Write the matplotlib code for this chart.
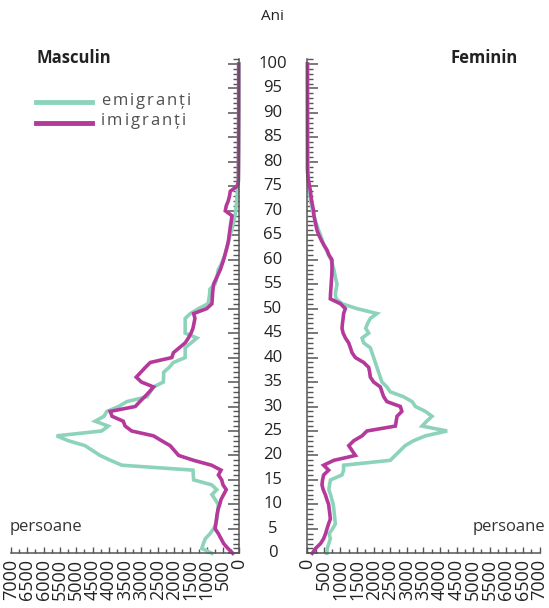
import matplotlib
matplotlib.use("Agg")
import matplotlib.pyplot as plt
from matplotlib.lines import Line2D
from matplotlib.transforms import blended_transform_factory
import numpy as np

plt.rcParams['font.family'] = ['Open Sans', 'DejaVu Sans']

ages = list(range(0, 101))

male_emigrants = [
    840, 1150, 1100, 1040, 900, 790, 720, 690, 670, 655,
    645, 740, 840, 690, 850, 1400, 1410, 1420, 3600, 3950,
    4270, 4500, 4730, 5240, 5600, 4220, 4020, 4420, 4150, 4060,
    3700, 3450, 2830, 2730, 2630, 2330, 2320, 2320, 2150, 2020,
    1660, 1660, 1660, 1480, 1300, 1660, 1660, 1660, 1660, 1500,
    1250, 960, 930, 910, 900, 746, 700, 670, 645, 560,
    500, 439, 400, 360, 320, 286, 240, 200, 165, 132,
    110, 95, 80, 68, 61, 45, 30, 28, 25, 22,
    20, 18, 16, 15, 14, 13, 12, 11, 10, 10,
    9, 8, 8, 7, 7, 6, 6, 5, 5, 5, 5]

male_immigrants = [
    200, 350, 480, 560, 640, 740, 720, 700, 680, 650,
    600, 560, 480, 400, 500, 540, 640, 560, 850, 1400,
    1860, 1990, 2120, 2380, 2630, 3300, 3500, 3560, 3900, 3960,
    3190, 3050, 2900, 2760, 2630, 3000, 3160, 3020, 2880, 2730,
    2070, 2020, 1840, 1660, 1560, 1480, 1420, 1390, 1360, 1400,
    1000, 840, 830, 820, 805, 790, 720, 650, 580, 530,
    480, 440, 400, 360, 330, 310, 290, 270, 245, 225,
    430, 400, 340, 300, 276, 70, 30, 28, 27, 26,
    25, 25, 24, 24, 23, 23, 22, 22, 21, 21,
    20, 20, 20, 20, 20, 20, 20, 20, 20, 20, 20]

female_emigrants = [
    590, 600, 650, 694, 660, 760, 845, 830, 815, 800,
    780, 740, 700, 650, 670, 700, 1045, 1095, 1095, 2500,
    2650, 2800, 2950, 3200, 3560, 4215, 3460, 3600, 3760, 3560,
    3260, 3160, 2900, 2500, 2400, 2250, 2200, 2150, 2100, 2050,
    2000, 1950, 1900, 1700, 1650, 1850, 1760, 1820, 1900, 2100,
    1500, 1050, 870, 845, 870, 896, 860, 830, 800, 760,
    710, 640, 570, 500, 450, 400, 340, 293, 240, 200,
    160, 130, 100, 85, 60, 40, 30, 25, 20, 18,
    16, 15, 14, 13, 12, 11, 10, 10, 9, 9,
    8, 8, 7, 7, 6, 6, 5, 5, 5, 5, 5]

female_immigrants = [
    150, 250, 400, 492, 550, 594, 640, 694, 680, 660,
    643, 590, 543, 480, 442, 460, 492, 643, 492, 800,
    1450, 1350, 1250, 1400, 1650, 1800, 2655, 2680, 2705, 2850,
    2806, 2400, 2303, 2250, 2202, 2000, 1900, 1880, 1850, 1700,
    1450, 1348, 1300, 1247, 1150, 1080, 1046, 1060, 1080, 1095,
    1146, 1000, 694, 700, 710, 720, 730, 740, 744, 744,
    744, 650, 594, 500, 420, 350, 293, 260, 230, 200,
    190, 160, 130, 110, 95, 70, 40, 20, 8, 5,
    5, 5, 5, 5, 5, 5, 5, 5, 5, 5,
    5, 5, 5, 5, 5, 5, 5, 5, 5, 5, 5]

x_ticks = list(range(0, 7001, 500))
age_ticks = list(range(0, 101, 5))
legend_labels = ['emigranți', 'imigranți']

C_EM = '#8dd3bb'
C_IM = '#b5399a'
TXT = '#222222'
AX = '#555555'

W, H = 549, 608
fig = plt.figure(figsize=(W / 100, H / 100), dpi=100)

def fx(px):
    return px / W

def fy(py):
    return 1 - py / H

y0, y1 = 553.3, 59.1
axL = fig.add_axes([fx(11), fy(y0), fx(239.3) - fx(11), fy(y1) - fy(y0)])
axR = fig.add_axes([fx(307.3), fy(y0), fx(539.5) - fx(307.3), fy(y1) - fy(y0)])

lw = 2.6
axL.plot(male_emigrants, ages, color=C_EM, lw=lw, solid_joinstyle='miter', clip_on=False)
axL.plot(male_immigrants, ages, color=C_IM, lw=lw, solid_joinstyle='miter', clip_on=False)
axR.plot(female_emigrants, ages, color=C_EM, lw=lw, solid_joinstyle='miter', clip_on=False)
axR.plot(female_immigrants, ages, color=C_IM, lw=lw, solid_joinstyle='miter', clip_on=False)

for ax in (axL, axR):
    ax.set_ylim(0, 101)
    ax.set_xlim(0, 7000)
    ax.set_facecolor('none')
    ax.spines['top'].set_visible(False)
    for s in ax.spines.values():
        s.set_color(AX)
        s.set_linewidth(1.1)
    ax.set_xticks(x_ticks)
    ax.set_xticks(list(range(250, 7000, 500)), minor=True)
    ax.set_xticklabels([str(v) for v in x_ticks], rotation=90, fontsize=13,
                       color=TXT, va='top')
    ax.tick_params(axis='x', which='major', direction='in', length=4.5, width=1.0,
                   color=AX, pad=4)
    ax.tick_params(axis='x', which='minor', direction='in', length=3, width=1.0,
                   color=AX)
    ax.set_yticks(age_ticks)
    ax.set_yticks(list(range(0, 102)), minor=True)
    ax.set_yticklabels([])
    ax.tick_params(axis='y', which='major', direction='in', length=8, width=1.1,
                   color=AX)
    ax.tick_params(axis='y', which='minor', direction='in', length=4.3, width=1.0,
                   color=AX)

axL.invert_xaxis()
axL.spines['left'].set_visible(False)
axL.yaxis.tick_right()
axL.tick_params(axis='y', which='both', left=False, right=True, labelright=False)
axR.spines['right'].set_visible(False)
axR.yaxis.tick_left()
axR.tick_params(axis='y', which='both', left=True, right=False, labelleft=False)

# central age labels
tr = blended_transform_factory(fig.transFigure, axL.transData)
for a in age_ticks:
    fig.text(fx(273), a, str(a), transform=tr, ha='center', va='center',
             fontsize=12, color=TXT)

fig.text(fx(272), fy(16), 'Ani', ha='center', va='center', fontsize=11, color=TXT)
fig.text(fx(36), fy(58), 'Masculin', ha='left', va='center', fontsize=12,
         fontweight='bold', color=TXT)
fig.text(fx(518), fy(58), 'Feminin', ha='right', va='center', fontsize=12,
         fontweight='bold', color=TXT)
fig.text(fx(10), fy(527), 'persoane', ha='left', va='center', fontsize=12, color='#333333')
fig.text(fx(545), fy(527), 'persoane', ha='right', va='center', fontsize=12, color='#333333')

# legend
fig.add_artist(Line2D([fx(36), fx(92)], [fy(102), fy(102)], color=C_EM, lw=3.5,
                      transform=fig.transFigure))
fig.add_artist(Line2D([fx(36), fx(92)], [fy(122.5), fy(122.5)], color=C_IM, lw=3.5,
                      transform=fig.transFigure))

renderer = fig.canvas.get_renderer()
tracking = 2.0
for label, ypx in zip(legend_labels, [101, 121]):
    xpx = 101
    for ch in label:
        t = fig.text(fx(xpx), fy(ypx), ch, ha='left', va='center', fontsize=12,
                     color='#505050')
        w = t.get_window_extent(renderer).width
        xpx += w + tracking

fig.savefig('out.png', dpi=100)
